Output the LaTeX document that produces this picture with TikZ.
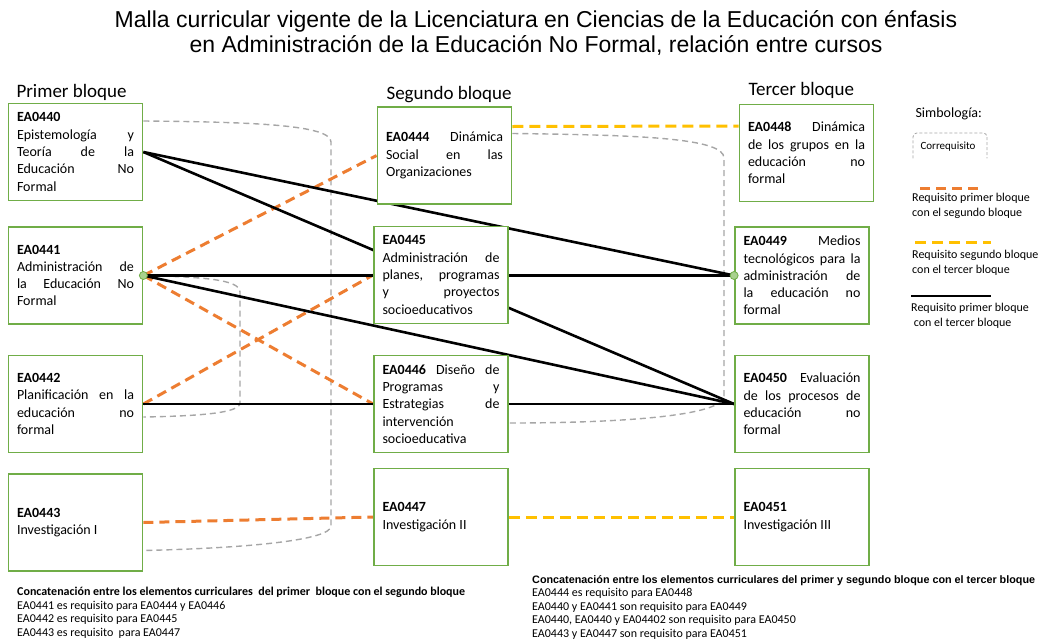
\documentclass[tikz,border=0pt]{standalone}
\usepackage{fontspec}
\setmainfont{Carlito}
\newfontfamily\arialfont{Liberation Sans}
\usetikzlibrary{calc,positioning,backgrounds}
\hbadness=10000
\hfuzz=3pt
\tolerance=10000
\definecolor{verde}{HTML}{70AD47}
\definecolor{verdeclaro}{HTML}{A9D18E}
\definecolor{naranja}{HTML}{ED7D31}
\definecolor{amarillo}{HTML}{FFC000}
\definecolor{gris}{HTML}{A6A6A6}
\tikzset{
curso/.style={
  draw=verde,
  line width=1.8pt,
  fill=white,
  minimum width=134pt,
  minimum height=97pt,
  text width=117pt,
  align=justify,
  inner sep=0pt,
  font=\fontsize{14}{17.3}\selectfont
  },
bloque/.style={anchor=base west, font=\fontsize{19}{23}\selectfont},
req1/.style={naranja, line width=3pt, dash pattern=on 10pt off 6pt},
req2/.style={amarillo, line width=3pt, dash pattern=on 11pt off 6pt},
req3/.style={black, line width=2.6pt},
correq/.style={gris, line width=1.4pt, dash pattern=on 6pt off 4pt},
punto/.style={circle, draw=verde, fill=verdeclaro, line width=0.8pt, minimum size=8pt, inner sep=0pt},
leyenda/.style={anchor=north west, align=left, inner sep=0pt, font=\fontsize{12}{15}\selectfont},
nota/.style={anchor=north west, align=left, inner sep=0pt, font=\fontsize{12}{13.6}\selectfont}
}

\begin{document}
\begin{tikzpicture}[x=1pt,y=-1pt]
\useasboundingbox (0,0) rectangle (1039,643);

% titulo
\node[font=\arialfont\fontsize{23}{25.5}\selectfont, align=center] (titulo) at (536,33)
  {Malla curricular vigente de la Licenciatura en Ciencias de la Educación con énfasis\\
   en Administración de la Educación No Formal, relación entre cursos};

% encabezados
\node[bloque] (h1) at (13,97) {Primer bloque};
\node[bloque] (h2) at (383,99) {Segundo bloque};
\node[bloque] (h3) at (745,95) {Tercer bloque};

% primer bloque
\node[curso] (c440) at (75.5,152) {\textbf{EA0440}\\ Epistemología y\linebreak Teoría de la\linebreak Educación No\linebreak Formal};
\node[curso] (c441) at (75.5,275.5) {\textbf{EA0441}\\ Administración de\linebreak la Educación No\linebreak Formal};
\node[curso] (c442) at (75.5,404) {\textbf{EA0442}\\ Planificación en la\linebreak educación no\linebreak formal};
\node[curso] (c443) at (75.5,522.5) {\textbf{EA0443}\\ Investigación I};

% segundo bloque
\node[curso] (c444) at (444.5,155.5) {\textbf{EA0444} Dinámica\linebreak Social en las\linebreak Organizaciones};
\node[curso] (c445) at (441,275) {\textbf{EA0445}\\ Administración de\linebreak planes, programas\linebreak y proyectos\linebreak socioeducativos};
\node[curso] (c446) at (441,404) {\textbf{EA0446} Diseño de\linebreak Programas y\linebreak Estrategias de\linebreak intervención\\ socioeducativa};
\node[curso] (c447) at (441,517) {\textbf{EA0447}\\ Investigación II};

% tercer bloque
\node[curso] (c448) at (806.5,153) {\textbf{EA0448} Dinámica\linebreak de los grupos en la\linebreak educación no\linebreak formal};
\node[curso] (c449) at (802,275.5) {\textbf{EA0449} Medios\linebreak tecnológicos para la\linebreak administración de\linebreak la educación no\linebreak formal};
\node[curso] (c450) at (802,404) {\textbf{EA0450} Evaluación\linebreak de los procesos de\linebreak educación no\linebreak formal};
\node[curso] (c451) at (802,517) {\textbf{EA0451}\\ Investigación III};

\begin{scope}[on background layer]
% correquisitos
\draw[correq] ([yshift=31pt]c440.east) .. controls (255,122) and (331,125) .. (331,142)
  -- (331,526) .. controls (331,540) and (250,548) .. ([yshift=-28pt]c443.east);
\draw[correq] (c441.east) .. controls (200,277) and (240,279) .. (240,292)
  -- (240,403) .. controls (240,413) and (200,416) .. ([yshift=-13pt]c442.east);
\draw[correq] ([yshift=22pt]c444.east) .. controls (640,135) and (724,138) .. (724,158)
  -- (724,396) .. controls (724,416) and (620,423) .. ([yshift=-19pt]c446.east);
% primer bloque -> segundo bloque
\draw[req1] (c441.east) -- (c444.west);
\draw[req1] (c441.east) -- (c446.west);
\draw[req1] (c442.east) -- (c445.west);
\draw[req1] (c443.east) -- (c447.west);
% segundo bloque -> tercer bloque
\draw[req2] ([yshift=29pt]c444.east) -- ([yshift=27pt]c448.west);
\draw[req2] (c447.east) -- (c451.west);
% primer bloque -> tercer bloque
\draw[req3] (c440.east) -- (c449.west);
\draw[req3] (c441.east) -- (c449.west);
\draw[req3] (c440.east) -- (c450.west);
\draw[req3] (c441.east) -- (c450.west);
\draw[req3] (c442.east) -- (c450.west);
\end{scope}

\node[punto] (p441) at (c441.east) {};
\node[punto] (p449) at (c449.west) {};

% simbologia
\node[anchor=base west, font=\fontsize{14}{17}\selectfont] (simb) at (912,117) {Simbología:};
\node[anchor=base west, font=\fontsize{11}{13}\selectfont] (lcor) at (917,149) {Correquisito};
\draw[correq, line width=0.8pt, dash pattern=on 3pt off 2pt, rounded corners=4pt]
  ([xshift=-4pt,yshift=-4pt]lcor.south west) |- ([yshift=5pt]lcor.north) -| ([xshift=8pt,yshift=-4pt]lcor.south east);
\node[leyenda] (l1) at (912,193) {Requisito primer bloque\\con el segundo bloque};
\node[leyenda] (l2) at (912,250) {Requisito segundo bloque\\con el tercer bloque};
\node[leyenda] (l3) at (911,303) {Requisito primer bloque\\\ con el tercer bloque};
\draw[req1] ([xshift=8pt,yshift=5pt]l1.north west) -- ++(63,0);
\draw[req2] ([xshift=3pt,yshift=8pt]l2.north west) -- ++(76,0);
\draw[req3] ([yshift=7pt]l3.north west) -- ++(80,0);

% notas
\node[nota] (n1) at (17,587) {\textbf{Concatenación entre los elementos curriculares\ \ del primer\ \ bloque con el segundo bloque}\\
  EA0441 es requisito para EA0444 y EA0446\\
  EA0442 es requisito para EA0445\\
  EA0443 es requisito\ \ para EA0447};
\node[nota] (n2) at (532,575) {{\arialfont\bfseries\fontsize{10.8}{13.6}\selectfont Concatenación entre los elementos curriculares del primer y segundo bloque con el tercer bloque}\\
  EA0444 es requisito para EA0448\\
  EA0440 y EA0441 son requisito para EA0449\\
  EA0440, EA0440 y EA04402 son requisito para EA0450\\
  EA0443 y EA0447 son requisito para EA0451};
\end{tikzpicture}
\end{document}
